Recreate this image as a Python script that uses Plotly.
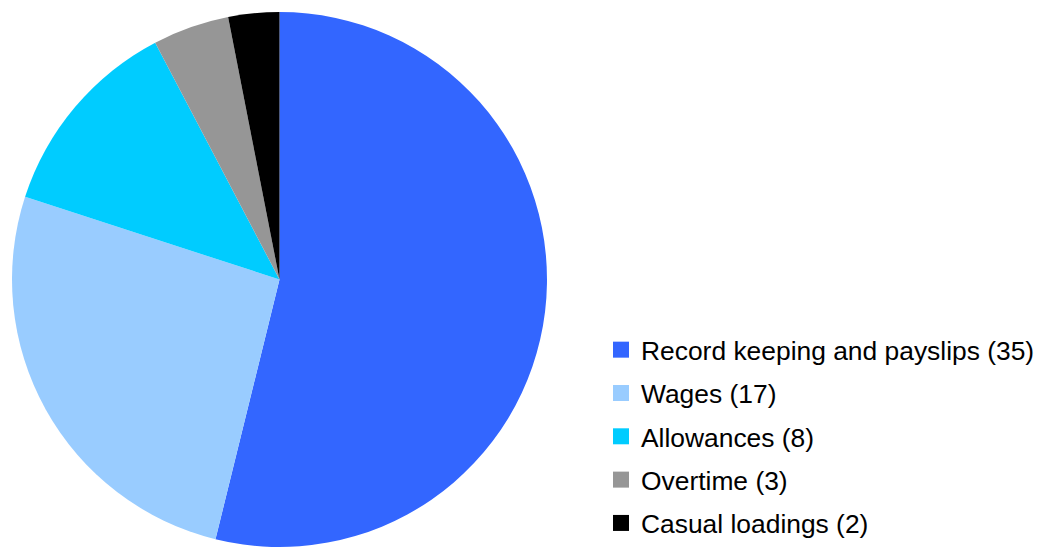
import plotly.graph_objects as go

categories = ["Record keeping and payslips", "Wages", "Allowances", "Overtime", "Casual loadings"]
counts = [35, 17, 8, 3, 2]
colors = ["#3366FF", "#99CCFF", "#00CCFF", "#969696", "#000000"]
labels = [f"{c} ({v})" for c, v in zip(categories, counts)]

fig = go.Figure()
fig.add_trace(go.Pie(
    labels=labels, values=counts, sort=False, direction="clockwise", rotation=0,
    marker=dict(colors=colors, line=dict(width=0)),
    textinfo="none", hoverinfo="label+value", showlegend=False,
    domain=dict(x=[12/1039, 547/1039], y=[0, 535/547]),
))
for lab, col in zip(labels, colors):
    fig.add_trace(go.Scatter(
        x=[None], y=[None], mode="markers", name=lab, legendgroup=lab,
        marker=dict(symbol="square", size=17, color=col),
        showlegend=True,
    ))

fig.update_layout(
    width=1039, height=547,
    margin=dict(l=0, r=0, t=0, b=0, autoexpand=False),
    paper_bgcolor="white", plot_bgcolor="white",
    font=dict(family="Arial, 'Liberation Sans', sans-serif", size=26.4, color="#000000"),
    xaxis=dict(visible=False), yaxis=dict(visible=False),
    legend=dict(x=601/1039, xanchor="left", y=0, yanchor="bottom",
                tracegroupgap=6, traceorder="grouped",
                font=dict(size=26.4), bgcolor="rgba(0,0,0,0)"),
)
fig.write_html("out.html")
